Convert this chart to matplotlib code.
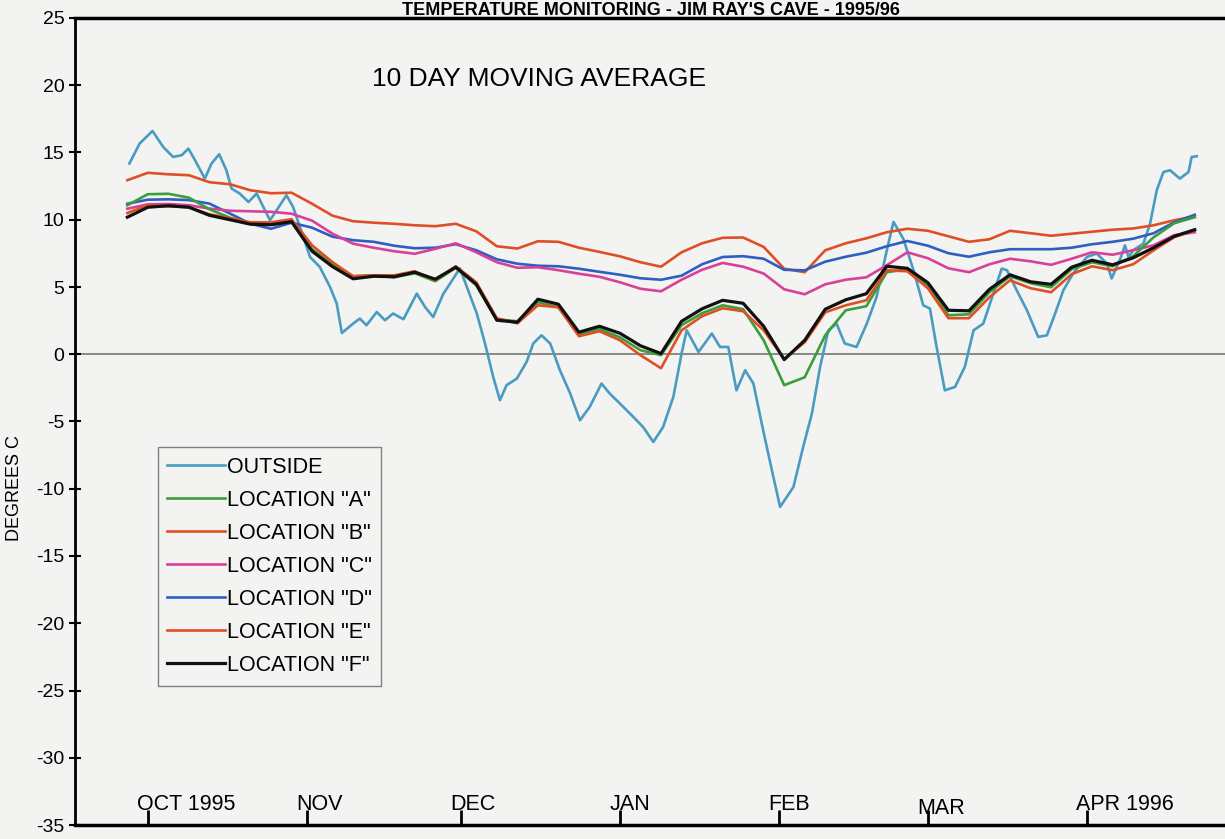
import numpy as np
import matplotlib.pyplot as plt

# days counted from 1 Oct 1995
month_days = [0, 31, 61, 92, 123, 152, 183]
month_labels = ["OCT 1995", "NOV", "DEC", "JAN", "FEB", "MAR", "APR 1996"]

outside_days = [-3.6, -1.6, 0.9, 3.0, 4.9, 6.6, 7.9, 9.2, 11.1, 12.4, 13.9, 15.3, 16.3, 17.9,
                19.6, 21.2, 22.5, 23.8, 25.1, 27.0, 28.3, 30.3, 31.6, 33.5, 35.5, 36.8, 37.8,
                40.0, 41.3, 42.6, 44.6, 46.2, 47.8, 49.8, 52.4, 54.0, 55.6, 57.6, 58.9, 60.8,
                62.4, 64.1, 65.7, 67.3, 68.6, 69.9, 71.9, 73.8, 75.1, 76.7, 78.4, 80.3, 82.3,
                84.2, 86.1, 88.4, 90.0, 92.0, 94.6, 96.5, 98.5, 100.4, 102.4, 104.0, 105.0,
                107.3, 109.9, 111.5, 113.1, 114.7, 116.4, 118.0, 119.9, 121.6, 123.2, 125.8,
                127.7, 129.4, 131.0, 132.6, 134.2, 135.8, 138.1, 140.1, 142.0, 144.0, 145.3,
                147.2, 149.2, 151.1, 152.4, 153.7, 155.3, 157.3, 159.2, 160.9, 162.8, 164.1,
                166.4, 167.4, 169.3, 171.3, 173.5, 175.2, 176.8, 178.4, 180.3, 183.0, 184.9,
                186.9, 187.8, 189.4, 190.4, 191.1, 192.0, 194.0, 195.3, 196.6, 197.9, 199.2,
                201.1, 202.8, 203.4, 204.4]
outside = [14.18, 15.67, 16.60, 15.41, 14.67, 14.80, 15.29, 14.42, 13.06, 14.18, 14.87, 13.68,
           12.32, 11.95, 11.32, 11.95, 10.95, 9.96, 10.71, 11.82, 10.95, 8.72, 7.23, 6.49, 5.00,
           3.77, 1.58, 2.28, 2.65, 2.16, 3.14, 2.53, 3.03, 2.60, 4.51, 3.52, 2.77, 4.51, 5.26,
           6.39, 4.76, 3.03, 0.80, -1.69, -3.42, -2.30, -1.81, -0.57, 0.80, 1.41, 0.80, -1.19,
           -2.92, -4.91, -3.92, -2.18, -2.92, -3.67, -4.66, -5.41, -6.52, -5.41, -3.17, 0.05,
           1.78, 0.17, 1.54, 0.54, 0.54, -2.68, -1.19, -2.18, -5.65, -8.62, -11.35, -9.87,
           -6.89, -4.41, -0.94, 1.78, 2.28, 0.80, 0.54, 2.28, 4.26, 7.73, 9.84, 8.60, 6.25,
           3.64, 3.40, 0.54, -2.68, -2.43, -0.94, 1.78, 2.28, 3.77, 6.37, 6.25, 4.76, 3.27,
           1.29, 1.41, 3.03, 4.76, 6.00, 7.23, 7.49, 6.74, 5.63, 6.99, 8.10, 7.23, 7.73, 8.23,
           9.72, 12.19, 13.55, 13.68, 13.06, 13.55, 14.67, 14.72]

loc_days = list(range(-4, 205, 4))

loc_a = [11.08, 11.90, 11.93, 11.64, 10.78, 10.15, 9.74, 9.63, 9.89, 7.81, 6.69, 5.80, 5.87,
         5.72, 6.02, 5.43, 6.43, 5.13, 2.60, 2.45, 3.87, 3.49, 1.49, 1.86, 1.26, 0.30, -0.07,
         2.16, 3.05, 3.64, 3.35, 1.04, -2.30, -1.71, 1.41, 3.27, 3.57, 6.10, 6.32, 5.13, 2.90,
         2.97, 4.61, 5.80, 5.28, 4.98, 6.32, 6.84, 6.54, 7.29, 8.70, 9.74, 10.19]
loc_b = [12.94, 13.49, 13.38, 13.31, 12.79, 12.64, 12.19, 11.97, 12.01, 11.19, 10.30, 9.89,
         9.78, 9.70, 9.59, 9.52, 9.70, 9.14, 8.03, 7.86, 8.40, 8.36, 7.92, 7.61, 7.28, 6.84,
         6.51, 7.58, 8.25, 8.66, 8.68, 7.98, 6.36, 6.10, 7.73, 8.25, 8.62, 9.07, 9.33, 9.18,
         8.77, 8.36, 8.55, 9.18, 9.00, 8.81, 8.96, 9.11, 9.26, 9.35, 9.59, 9.96, 10.26]
loc_c = [10.82, 11.15, 11.17, 11.08, 10.83, 10.67, 10.63, 10.59, 10.45, 9.93, 8.96, 8.22,
         7.92, 7.66, 7.47, 7.84, 8.25, 7.58, 6.84, 6.43, 6.47, 6.25, 5.99, 5.76, 5.35, 4.87,
         4.68, 5.54, 6.28, 6.79, 6.51, 6.00, 4.83, 4.46, 5.20, 5.54, 5.72, 6.62, 7.58, 7.14,
         6.39, 6.10, 6.69, 7.10, 6.91, 6.65, 7.10, 7.58, 7.40, 7.73, 8.10, 8.85, 9.07]
loc_d = [11.19, 11.49, 11.52, 11.46, 11.20, 10.46, 9.70, 9.33, 9.78, 9.41, 8.74, 8.48, 8.36,
         8.07, 7.88, 7.92, 8.18, 7.73, 7.06, 6.73, 6.58, 6.54, 6.36, 6.13, 5.91, 5.65, 5.54,
         5.84, 6.69, 7.23, 7.29, 7.10, 6.28, 6.24, 6.88, 7.25, 7.55, 8.03, 8.42, 8.07, 7.51,
         7.25, 7.58, 7.81, 7.81, 7.81, 7.92, 8.18, 8.36, 8.59, 9.00, 9.81, 10.37]
loc_e = [10.50, 11.08, 11.00, 10.93, 10.41, 10.11, 9.81, 9.81, 10.04, 8.10, 6.84, 5.80, 5.87,
         5.87, 6.17, 5.50, 6.54, 5.35, 2.68, 2.30, 3.64, 3.49, 1.34, 1.71, 1.04, -0.07, -1.04,
         1.78, 2.83, 3.42, 3.20, 1.78, -0.35, 0.89, 3.12, 3.64, 4.01, 6.25, 6.17, 4.91, 2.68,
         2.68, 4.24, 5.50, 4.91, 4.61, 5.95, 6.54, 6.25, 6.69, 7.73, 8.70, 9.22]
loc_f = [10.19, 10.93, 11.04, 10.93, 10.33, 10.00, 9.67, 9.63, 9.85, 7.66, 6.51, 5.61, 5.80,
         5.76, 6.10, 5.58, 6.47, 5.20, 2.53, 2.38, 4.09, 3.72, 1.64, 2.08, 1.56, 0.63, 0.05,
         2.45, 3.38, 4.01, 3.79, 2.08, -0.40, 1.04, 3.35, 4.05, 4.50, 6.54, 6.39, 5.32, 3.27,
         3.23, 4.83, 5.91, 5.39, 5.20, 6.47, 6.99, 6.65, 7.17, 7.92, 8.77, 9.26]

font = ["Liberation Sans", "DejaVu Sans"]
bg = "#f3f3f1"

fig = plt.figure(figsize=(12.25, 8.39), dpi=100, facecolor=bg)
ax = fig.add_axes([75 / 1225, 14 / 839, 1 - 75 / 1225, 807 / 839])
ax.set_facecolor(bg)

ax.axhline(0, color="#808080", lw=1.3, zorder=1)

lo, = ax.plot(outside_days, outside, color="#4a9bc2", lw=1.9, zorder=2)
lb, = ax.plot(loc_days, loc_b, color="#e04e26", lw=1.9, zorder=3)
ld, = ax.plot(loc_days, loc_d, color="#2e5ec2", lw=1.9, zorder=3)
lc, = ax.plot(loc_days, loc_c, color="#d8409a", lw=1.9, zorder=3)
la, = ax.plot(loc_days, loc_a, color="#3a9e3a", lw=1.9, zorder=4)
le, = ax.plot(loc_days, loc_e, color="#e04e26", lw=1.9, zorder=4)
lf, = ax.plot(loc_days, loc_f, color="#111111", lw=2.3, zorder=5)

handles = [lo, la, lb, lc, ld, le, lf]
labels = ["OUTSIDE", 'LOCATION "A"', 'LOCATION "B"', 'LOCATION "C"',
          'LOCATION "D"', 'LOCATION "E"', 'LOCATION "F"']
leg = ax.legend(handles, labels, loc="upper left", bbox_to_anchor=(0.072, 0.4684),
                borderaxespad=0, frameon=True, fancybox=False, edgecolor="#808080",
                facecolor=bg, framealpha=1, handlelength=2.65, handletextpad=0.1,
                labelspacing=0.56, borderpad=0.45, prop={"family": font, "size": 15.5})
leg.get_frame().set_linewidth(1.0)

ax.set_xlim(-14.2, 209.9)
ax.set_ylim(-35, 25)
ax.set_yticks(range(-35, 26, 5))
ax.set_yticklabels([str(v) for v in range(-35, 26, 5)], family=font, fontsize=14)
ax.tick_params(axis="y", direction="inout", length=9, width=1.5, pad=3)

ax.set_xticks(month_days)
ax.set_xticklabels([])
ax.tick_params(axis="x", direction="in", length=11, width=2)
for d, lab in zip(month_days, month_labels):
    yy = -34.2 if lab == "MAR" else -33.9
    ax.text(d - 2.1, yy, lab, ha="left", va="baseline", family=font, fontsize=15.5)

ax.spines["left"].set_linewidth(2)
ax.spines["bottom"].set_linewidth(2.5)
ax.spines["top"].set_linewidth(2.5)
ax.spines["right"].set_visible(False)

ax.text(0.258, 0.925, "10 DAY MOVING AVERAGE", transform=ax.transAxes,
        family=font, fontsize=19, ha="left", va="center")

fig.text(15 / 1225, 1 - 488 / 839, "DEGREES C", rotation=90, ha="center", va="center",
         family=font, fontsize=13)

fig.text(651 / 1225, 1 - 15 / 839, "TEMPERATURE MONITORING - JIM RAY'S CAVE - 1995/96",
         ha="center", va="baseline", family=font, fontsize=13, weight="bold")

fig.savefig("out.png", dpi=100, facecolor=fig.get_facecolor())
